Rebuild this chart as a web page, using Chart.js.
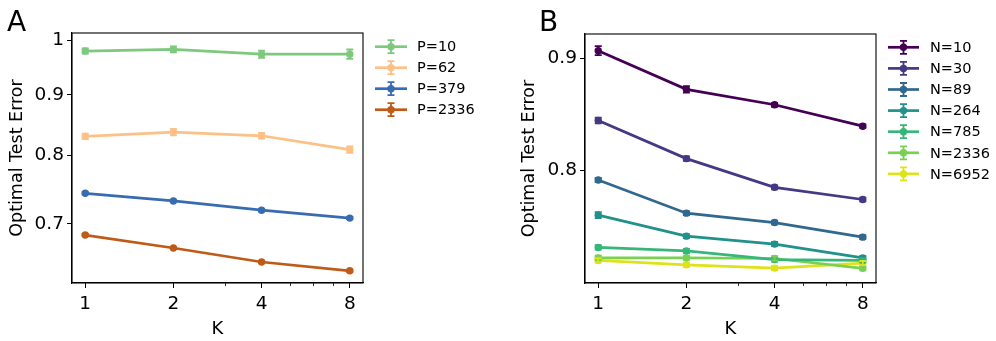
<!DOCTYPE html>
<html>
<head>
<meta charset="utf-8">
<script src="https://cdn.jsdelivr.net/npm/chart.js@4.4.1/dist/chart.umd.min.js"></script>
<style>
  body { margin: 0; background: #fff; width: 996px; height: 341px; overflow: hidden; position: relative; }
  .panel { position: absolute; top: 0; width: 498px; height: 341px; }
</style>
</head>
<body>
<div class="panel" style="left:0"><canvas id="chartA" width="498" height="341"></canvas></div>
<div class="panel" style="left:498px"><canvas id="chartB" width="498" height="341"></canvas></div>
<script>
// shared x axis
const K_VALUES = [1, 2, 4, 8];
const K_MINOR = [3, 5, 6, 7];

// panel A — fixed P
const P_LABELS = ["P=10", "P=62", "P=379", "P=2336"];
const P_COLORS = ["#7fc97f", "#fdc086", "#386cb0", "#bf5b17"];
const P10 = [0.980, 0.983, 0.974, 0.974];
const P10_ERR = [0.0048, 0.0057, 0.0067, 0.0089];
const P62 = [0.830, 0.837, 0.831, 0.809];
const P62_ERR = [0.0044, 0.0052, 0.0046, 0.0050];
const P379 = [0.743, 0.732, 0.719, 0.708];
const P379_ERR = [0.0015, 0.0015, 0.0015, 0.0015];
const P2336 = [0.685, 0.668, 0.650, 0.639];
const P2336_ERR = [0.0015, 0.0015, 0.0015, 0.0015];
const A_Y_TICKS = [0.7, 0.8, 0.9, 1];

// panel B — fixed N
const N_LABELS = ["N=10", "N=30", "N=89", "N=264", "N=785", "N=2336", "N=6952"];
const N_COLORS = ["#440154", "#443983", "#31688e", "#21918c", "#35b779", "#7ad151", "#dde318"];
const N10 = [0.907, 0.871, 0.857, 0.838];
const N10_ERR = [0.0043, 0.0029, 0.0018, 0.0015];
const N30 = [0.843, 0.810, 0.786, 0.776];
const N30_ERR = [0.0025, 0.0019, 0.0016, 0.0015];
const N89 = [0.792, 0.765, 0.7575, 0.746];
const N89_ERR = [0.0017, 0.0016, 0.0015, 0.0015];
const N264 = [0.7634, 0.7468, 0.7406, 0.730];
const N264_ERR = [0.0024, 0.0016, 0.0016, 0.0015];
const N785 = [0.738, 0.7353, 0.7287, 0.728];
const N785_ERR = [0.0017, 0.0016, 0.0015, 0.0015];
const N2336 = [0.730, 0.730, 0.7295, 0.722];
const N2336_ERR = [0.0017, 0.0016, 0.0017, 0.0016];
const N6952 = [0.728, 0.7247, 0.7222, 0.726];
const N6952_ERR = [0.0017, 0.0016, 0.0016, 0.0016];
const B_Y_TICKS = [0.8, 0.9];

const FONT = "'DejaVu Sans', sans-serif";

function makeDatasets(labels, colors, series, errors) {
  return labels.map((label, i) => ({
    label,
    data: K_VALUES.map((k, j) => ({ x: k, y: series[i][j] })),
    errors: errors[i],
    borderColor: colors[i],
    backgroundColor: colors[i],
    borderWidth: 2.7,
    pointRadius: 3.7,
    pointBorderWidth: 0,
    pointBackgroundColor: colors[i],
    tension: 0,
  }));
}

// vertical error bars with caps, drawn through the chart scales
const errorBarPlugin = {
  id: "errorBars",
  afterDatasetsDraw(chart) {
    const { ctx, scales: { x, y } } = chart;
    ctx.save();
    ctx.lineWidth = 1.8;
    chart.data.datasets.forEach((ds) => {
      ctx.strokeStyle = ds.borderColor;
      ds.data.forEach((p, i) => {
        const e = ds.errors[i];
        const px = x.getPixelForValue(p.x);
        const y0 = y.getPixelForValue(p.y - e);
        const y1 = y.getPixelForValue(p.y + e);
        ctx.beginPath();
        ctx.moveTo(px, y0); ctx.lineTo(px, y1);
        ctx.moveTo(px - 3.5, y0); ctx.lineTo(px + 3.5, y0);
        ctx.moveTo(px - 3.5, y1); ctx.lineTo(px + 3.5, y1);
        ctx.stroke();
      });
    });
    ctx.restore();
  },
};

// box around the axes + minor ticks on the log x axis
const framePlugin = {
  id: "frame",
  afterDraw(chart) {
    const { ctx, chartArea: a, scales: { x } } = chart;
    ctx.save();
    ctx.strokeStyle = "#000";
    ctx.lineWidth = 1.1;
    ctx.strokeRect(a.left, a.top, a.right - a.left, a.bottom - a.top);
    ctx.lineWidth = 0.8;
    K_MINOR.forEach((k) => {
      const px = Math.round(x.getPixelForValue(k)) + 0.5;
      ctx.beginPath();
      ctx.moveTo(px, a.bottom);
      ctx.lineTo(px, a.bottom + 3);
      ctx.stroke();
    });
    ctx.restore();
  },
};

// matplotlib-style legend (line + marker + error bar) and panel letter
const legendPlugin = {
  id: "mplLegend",
  afterDraw(chart, args, opts) {
    const ctx = chart.ctx;
    ctx.save();
    ctx.fillStyle = "#000";
    ctx.font = "28px " + FONT;
    ctx.textBaseline = "alphabetic";
    ctx.fillText(opts.letter, opts.letterX, 31);

    ctx.font = "14.5px " + FONT;
    ctx.textBaseline = "middle";
    chart.data.datasets.forEach((ds, i) => {
      const yy = opts.y + i * opts.step;
      const cx = (opts.x0 + opts.x1) / 2;
      ctx.strokeStyle = ds.borderColor;
      ctx.fillStyle = ds.borderColor;
      ctx.lineWidth = 2.7;
      ctx.beginPath();
      ctx.moveTo(opts.x0, yy); ctx.lineTo(opts.x1, yy);
      ctx.stroke();
      ctx.lineWidth = 1.8;
      ctx.beginPath();
      ctx.moveTo(cx, yy - 6.5); ctx.lineTo(cx, yy + 6.5);
      ctx.moveTo(cx - 3.5, yy - 6.5); ctx.lineTo(cx + 3.5, yy - 6.5);
      ctx.moveTo(cx - 3.5, yy + 6.5); ctx.lineTo(cx + 3.5, yy + 6.5);
      ctx.stroke();
      ctx.beginPath();
      ctx.arc(cx, yy, 3.7, 0, Math.PI * 2);
      ctx.fill();
      ctx.fillStyle = "#000";
      ctx.fillText(ds.label, opts.textX, yy + 1);
    });
    ctx.restore();
  },
};

function makeChart(id, datasets, yMin, yMax, yTicks, yAxisWidth, yTitlePad, padRight, padTop, legendOpts) {
  return new Chart(document.getElementById(id), {
    type: "line",
    data: { datasets },
    options: {
      responsive: false,
      animation: false,
      layout: { padding: { left: 0, right: padRight, top: padTop, bottom: 0 } },
      plugins: {
        legend: { display: false },
        tooltip: { enabled: false },
        mplLegend: legendOpts,
      },
      scales: {
        x: {
          type: "logarithmic",
          min: Math.pow(2, -0.15),
          max: Math.pow(2, 3.15),
          afterBuildTicks: (axis) => { axis.ticks = K_VALUES.map((v) => ({ value: v })); },
          afterFit: (axis) => { axis.height = 58; },
          ticks: {
            autoSkip: false, maxRotation: 0, padding: 5,
            color: "#000", font: { family: FONT, size: 18.5 },
            callback: (v) => String(v),
          },
          grid: { drawOnChartArea: false, drawTicks: true, tickLength: 5, tickColor: "#000", tickWidth: 1 },
          border: { display: true, color: "#000", width: 1.1 },
          title: { display: true, text: "K", color: "#000", font: { family: FONT, size: 18 }, padding: { top: 0, bottom: 1 } },
        },
        y: {
          type: "logarithmic",
          min: yMin,
          max: yMax,
          afterBuildTicks: (axis) => { axis.ticks = yTicks.map((v) => ({ value: v })); },
          afterFit: (axis) => { axis.width = yAxisWidth; },
          ticks: {
            autoSkip: false, padding: 3,
            color: "#000", font: { family: FONT, size: 18.5 },
            callback: (v) => (v === 1 ? "1" : v.toFixed(1)),
          },
          grid: { drawOnChartArea: false, drawTicks: true, tickLength: 5, tickColor: "#000", tickWidth: 1 },
          border: { display: true, color: "#000", width: 1.1 },
          title: { display: true, text: "Optimal Test Error", color: "#000", font: { family: FONT, size: 17.5 }, padding: { top: yTitlePad, bottom: 0 } },
        },
      },
    },
    plugins: [errorBarPlugin, framePlugin, legendPlugin],
  });
}

makeChart(
  "chartA",
  makeDatasets(P_LABELS, P_COLORS, [P10, P62, P379, P2336], [P10_ERR, P62_ERR, P379_ERR, P2336_ERR]),
  0.624, 1.015, A_Y_TICKS, 72, 7, 135, 33,
  { letter: "A", letterX: 7, x0: 375, x1: 407, textX: 417, y: 46.7, step: 21 }
);

makeChart(
  "chartB",
  makeDatasets(N_LABELS, N_COLORS, [N10, N30, N89, N264, N785, N2336, N6952],
    [N10_ERR, N30_ERR, N89_ERR, N264_ERR, N785_ERR, N2336_ERR, N6952_ERR]),
  0.711, 0.923, B_Y_TICKS, 87, 21, 120, 34,
  { letter: "B", letterX: 41, x0: 390, x1: 421, textX: 432, y: 47.3, step: 21.1 }
);
</script>
</body>
</html>
